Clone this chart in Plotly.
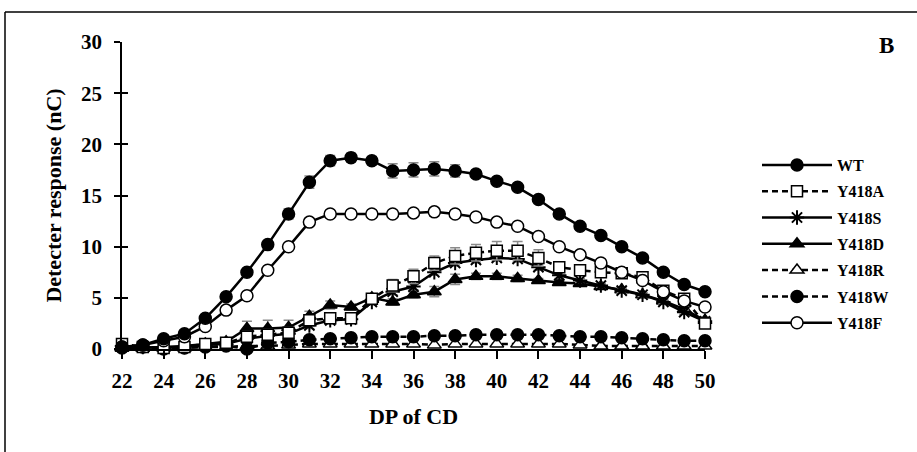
import plotly.graph_objects as go

dp = list(range(22, 51))

wt = [0.2, 0.4, 1.0, 1.5, 3.0, 5.1, 7.5, 10.2, 13.2, 16.3, 18.4, 18.7, 18.4, 17.4, 17.5, 17.6, 17.4, 17.1, 16.4, 15.8,
      14.6, 13.2, 12.0, 11.1, 10.0, 8.9, 7.5, 6.3, 5.6]
wt_err = [0.1, 0.1, 0.1, 0.2, 0.2, 0.2, 0.2, 0.3, 0.5, 0.6, 0.5, 0.4, 0.4, 0.7, 0.7, 0.7, 0.6, 0.3, 0.3, 0.2,
          0.2, 0.2, 0.2, 0.2, 0.2, 0.2, 0.2, 0.2, 0.2]

y418a = [0.5, 0.2, 0.1, 0.2, 0.5, 0.6, 1.2, 1.4, 1.6, 2.8, 3.0, 3.0, 4.9, 6.2, 7.1, 8.4, 9.1, 9.4, 9.6, 9.6,
         8.9, 8.0, 7.7, 7.5, 7.4, 7.0, 5.7, 4.9, 2.5]
y418a_err = [0.1, 0.1, 0.1, 0.1, 0.1, 0.1, 0.5, 0.5, 0.5, 0.4, 0.4, 0.4, 0.5, 0.6, 0.7, 0.7, 0.8, 0.8, 0.9, 0.9,
             0.8, 0.5, 0.3, 0.3, 0.3, 0.3, 0.3, 0.3, 0.3]

y418s = [0.3, 0.2, 0.1, 0.2, 0.4, 0.5, 1.0, 1.3, 1.5, 2.3, 2.8, 2.9, 4.6, 5.6, 6.1, 7.5, 8.4, 8.7, 8.9, 8.8,
         8.0, 7.2, 6.7, 6.2, 5.7, 5.3, 4.6, 3.6, 2.7]
y418s_err = [0.1, 0.1, 0.1, 0.1, 0.1, 0.1, 0.3, 0.3, 0.3, 0.3, 0.3, 0.3, 0.3, 0.3, 0.3, 0.3, 0.3, 0.3, 0.3, 0.3,
             0.3, 0.3, 0.2, 0.2, 0.2, 0.2, 0.2, 0.2, 0.2]

y418d = [0.1, 0.1, 0.2, 0.3, 0.5, 0.7, 2.0, 2.0, 2.1, 3.2, 4.3, 4.1, 5.0, 4.6, 5.3, 5.6, 6.8, 7.1, 7.1, 6.9,
         6.7, 6.5, 6.4, 6.1, 5.8, 5.3, 4.7, 3.9, 2.8]
y418d_err = [0.1, 0.1, 0.1, 0.1, 0.1, 0.1, 0.7, 0.8, 0.7, 0.5, 0.4, 0.3, 0.3, 0.3, 0.3, 0.5, 0.5, 0.3, 0.3, 0.3,
             0.2, 0.2, 0.2, 0.2, 0.2, 0.2, 0.2, 0.2, 0.2]

y418r = [0.1, 0.1, 0.1, 0.1, 0.2, 0.2, 0.3, 0.3, 0.4, 0.5, 0.5, 0.5, 0.5, 0.5, 0.5, 0.4, 0.5, 0.5, 0.5, 0.5,
         0.5, 0.5, 0.4, 0.3, 0.3, 0.3, 0.3, 0.3, 0.3]

y418w = [0.1, 0.2, 0.0, 0.1, 0.2, 0.3, 0.0, 0.6, 0.7, 0.9, 1.0, 1.1, 1.2, 1.2, 1.2, 1.3, 1.3, 1.4, 1.4, 1.4,
         1.4, 1.3, 1.2, 1.2, 1.1, 1.0, 0.9, 0.8, 0.8]

y418f = [0.2, 0.4, 0.8, 1.2, 2.2, 3.8, 5.2, 7.7, 10.0, 12.4, 13.2, 13.2, 13.2, 13.2, 13.3, 13.4, 13.2, 12.9, 12.4, 12.0,
         11.0, 10.0, 9.2, 8.4, 7.5, 6.7, 5.6, 4.7, 4.1]
y418f_err = [0.1, 0.1, 0.1, 0.1, 0.1, 0.1, 0.1, 0.2, 0.2, 0.2, 0.2, 0.2, 0.2, 0.2, 0.3, 0.4, 0.3, 0.2, 0.2, 0.2,
             0.2, 0.2, 0.2, 0.2, 0.2, 0.2, 0.2, 0.2, 0.2]

x_ticks = list(range(22, 51, 2))
y_ticks = [0, 5, 10, 15, 20, 25, 30]

FONT = "Liberation Serif"
DASH = "6px,4px"
series = [
    ("WT", wt, wt_err, "solid", "circle", "black"),
    ("Y418A", y418a, y418a_err, DASH, "square", "white"),
    ("Y418S", y418s, y418s_err, "solid", "asterisk-open", "black"),
    ("Y418D", y418d, y418d_err, "solid", "triangle-up", "black"),
    ("Y418R", y418r, None, DASH, "triangle-up", "white"),
    ("Y418W", y418w, None, DASH, "circle", "black"),
    ("Y418F", y418f, y418f_err, "solid", "circle", "white"),
]
names = [s[0] for s in series]
lookup = {s[0]: s for s in series}
draw_order = ["Y418R", "Y418W", "Y418D", "Y418S", "Y418A", "Y418F", "WT"]

fig = go.Figure()
for name in draw_order:
    nm, vals, err, dash, sym, fill = lookup[name]
    rank = names.index(nm)
    size = 11 if sym == "square" else 12
    fig.add_trace(go.Scatter(
        x=dp, y=vals, name=nm, mode="lines+markers",
        legendrank=rank, legendgroup=nm,
        line=dict(color="black", width=2.5, dash=dash),
        marker=dict(symbol=sym, size=size, color=fill,
                    line=dict(color="black", width=1.5 if sym != "asterisk-open" else 2)),
        error_y=dict(type="data", array=err, visible=err is not None, color="#8a8a8a",
                     thickness=1.5, width=5),
        cliponaxis=False,
    ))

L, R, T, B = 122, 212, 42, 103
pw, ph = 917 - L - R, 452 - T - B


def px_x(p):
    return (p - L) / pw


def px_y(p):
    return (452 - B - p) / ph


# figure border (top and left)
fig.add_shape(type="line", xref="paper", yref="paper",
              x0=px_x(5), x1=px_x(917), y0=px_y(12), y1=px_y(12),
              line=dict(color="black", width=1.5))
fig.add_shape(type="line", xref="paper", yref="paper",
              x0=px_x(5), x1=px_x(5), y0=px_y(12), y1=px_y(460),
              line=dict(color="black", width=1.5))

fig.add_annotation(text="<b>B</b>", xref="paper", yref="paper", x=px_x(887), y=px_y(45),
                   xanchor="center", yanchor="middle",
                   showarrow=False, font=dict(family=FONT, size=23, color="black"))

fig.update_layout(
    width=917, height=452,
    margin=dict(l=L, r=R, t=T, b=B),
    paper_bgcolor="white", plot_bgcolor="white",
    font=dict(family=FONT, color="black"),
    showlegend=True,
    legend=dict(x=px_x(757), y=px_y(148), xanchor="left", yanchor="top",
                font=dict(family=FONT, size=16, color="black", weight="bold"),
                itemwidth=70, tracegroupgap=2.5, traceorder="grouped", bgcolor="rgba(0,0,0,0)"),
    xaxis=dict(range=[22, 50], tickvals=x_ticks, ticktext=[str(v) for v in x_ticks],
               showgrid=False, zeroline=False, showline=True, linecolor="black", linewidth=1.5,
               ticks="outside", ticklen=8, tickwidth=1.5, tickcolor="black",
               tickfont=dict(family=FONT, size=21, weight="bold"), ticklabelstandoff=4,
               title=dict(text="<b>DP of CD</b>", font=dict(family=FONT, size=22), standoff=17)),
    yaxis=dict(range=[0, 30], tickvals=y_ticks, showgrid=False, zeroline=False,
               showline=True, linecolor="black", linewidth=1.5,
               ticks="outside", ticklen=6, tickwidth=1.5, tickcolor="black",
               tickfont=dict(family=FONT, size=21, weight="bold"), ticklabelstandoff=8,
               title=dict(text="<b>Detecter response (nC)</b>", font=dict(family=FONT, size=22), standoff=13)),
    yaxis2=dict(range=[0, 30], tickvals=y_ticks, overlaying="y", side="left", anchor="x",
                showgrid=False, zeroline=False, showline=False, showticklabels=False,
                ticks="inside", ticklen=6, tickwidth=1.5, tickcolor="black"),
)
fig.add_trace(go.Scatter(x=[22], y=[0], yaxis="y2", showlegend=False, mode="markers",
                         marker=dict(opacity=0), hoverinfo="skip"))

fig.write_html("out.html", config={"displayModeBar": False},
               post_script="document.body.style.margin='0';document.body.style.overflow='hidden';")
